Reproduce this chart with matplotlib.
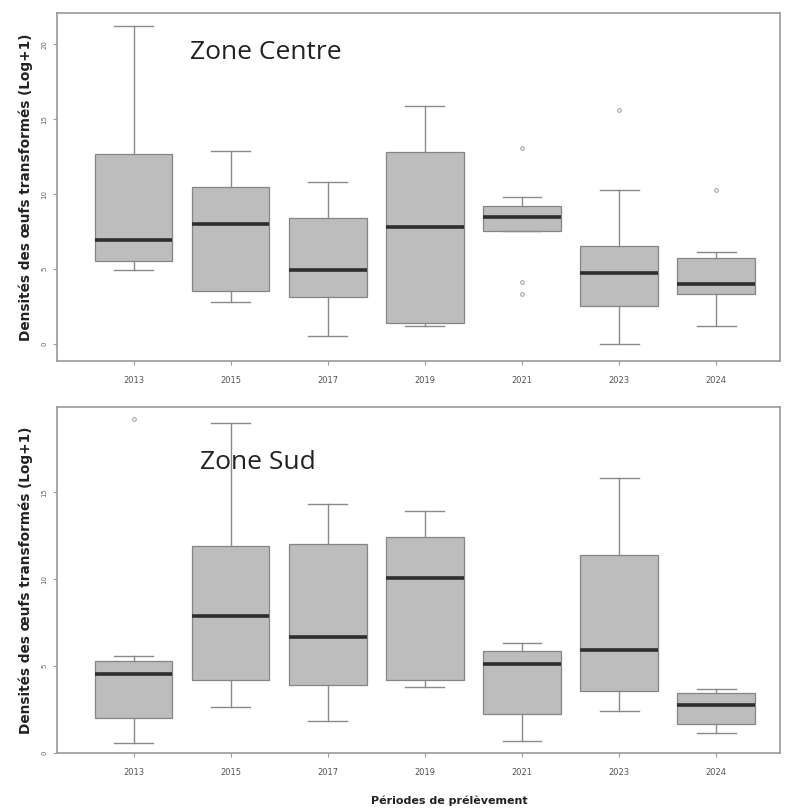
import matplotlib
matplotlib.use("Agg")
import matplotlib.pyplot as plt

years = ["2013", "2015", "2017", "2019", "2021", "2023", "2024"]

# Zone Centre : moustache basse, Q1, médiane, Q3, moustache haute
centre_whislo = [4.95, 2.8, 0.5, 1.2, 7.5, 0.0, 1.2]
centre_q1 = [5.5, 3.5, 3.1, 1.4, 7.5, 2.5, 3.3]
centre_med = [6.9, 8.0, 4.95, 7.8, 8.5, 4.75, 4.0]
centre_q3 = [12.7, 10.5, 8.4, 12.8, 9.2, 6.5, 5.7]
centre_whishi = [21.2, 12.9, 10.8, 15.9, 9.8, 10.3, 6.15]
centre_fliers = [[], [], [], [], [13.1, 4.1, 3.3], [15.6], [10.3]]

# Zone Sud
sud_whislo = [0.6, 2.65, 1.85, 3.8, 0.7, 2.4, 1.15]
sud_q1 = [2.0, 4.2, 3.9, 4.2, 2.25, 3.6, 1.7]
sud_med = [4.55, 7.9, 6.7, 10.05, 5.15, 5.95, 2.75]
sud_q3 = [5.3, 11.9, 12.05, 12.4, 5.9, 11.4, 3.45]
sud_whishi = [5.6, 19.0, 14.3, 13.9, 6.35, 15.8, 3.7]
sud_fliers = [[19.2], [], [], [], [], [], []]

centre_ticks = [0, 5, 10, 15, 20]
sud_ticks = [0, 5, 10, 15]

ylabel = "Densités des œufs transformés (Log+1)"


def make_stats(whislo, q1, med, q3, whishi, fliers):
    stats = []
    for i in range(len(years)):
        stats.append(dict(label=years[i], whislo=whislo[i], q1=q1[i], med=med[i],
                          q3=q3[i], whishi=whishi[i], fliers=fliers[i]))
    return stats


def draw_panel(ax, stats, ticks, ylim, title, title_xy):
    ax.bxp(stats, positions=range(1, len(years) + 1), widths=0.8, capwidths=0.4,
           patch_artist=True, showfliers=True,
           boxprops=dict(facecolor="#bdbdbd", edgecolor="#858585", linewidth=0.9),
           medianprops=dict(color="#2e2e2e", linewidth=2.6),
           whiskerprops=dict(color="#8a8a8a", linewidth=1.0),
           capprops=dict(color="#8a8a8a", linewidth=1.0),
           flierprops=dict(marker="o", markersize=2.6, markerfacecolor="none",
                           markeredgecolor="#999999", markeredgewidth=0.7))
    ax.set_xlim(0.21, 7.66)
    ax.set_ylim(*ylim)
    ax.set_yticks(ticks)
    ax.set_yticklabels([str(t) for t in ticks], rotation=90, va="center",
                       fontsize=5, color="#666666")
    ax.set_xticks(range(1, len(years) + 1))
    ax.set_xticklabels(years, fontsize=6, color="#555555")
    ax.tick_params(axis="x", length=3, color="#999999", pad=8)
    ax.tick_params(axis="y", length=3, color="#999999", pad=4)
    for sp in ax.spines.values():
        sp.set_color("#9a9a9a")
        sp.set_linewidth(1.2)
    ax.set_ylabel(ylabel, fontsize=9.8, fontweight="bold", color="#222222", labelpad=6)
    ax.text(title_xy[0], title_xy[1], title, transform=ax.transAxes,
            fontsize=19, family="Open Sans", color="#222222", va="center")


fig = plt.figure(figsize=(7.89, 8.09), dpi=100)

ax1 = fig.add_axes([0.072, 0.554, 0.917, 0.430])
draw_panel(ax1, make_stats(centre_whislo, centre_q1, centre_med, centre_q3,
                           centre_whishi, centre_fliers),
           centre_ticks, (-1.14, 22.1), "Zone Centre", (0.184, 0.885))

ax2 = fig.add_axes([0.072, 0.069, 0.917, 0.428])
draw_panel(ax2, make_stats(sud_whislo, sud_q1, sud_med, sud_q3,
                           sud_whishi, sud_fliers),
           sud_ticks, (0.0, 19.9), "Zone Sud", (0.198, 0.84))

fig.text(0.569, 0.004, "Périodes de prélèvement", ha="center", va="bottom",
         fontsize=8, fontweight="bold", color="#222222")

fig.savefig("out.png", dpi=100)
